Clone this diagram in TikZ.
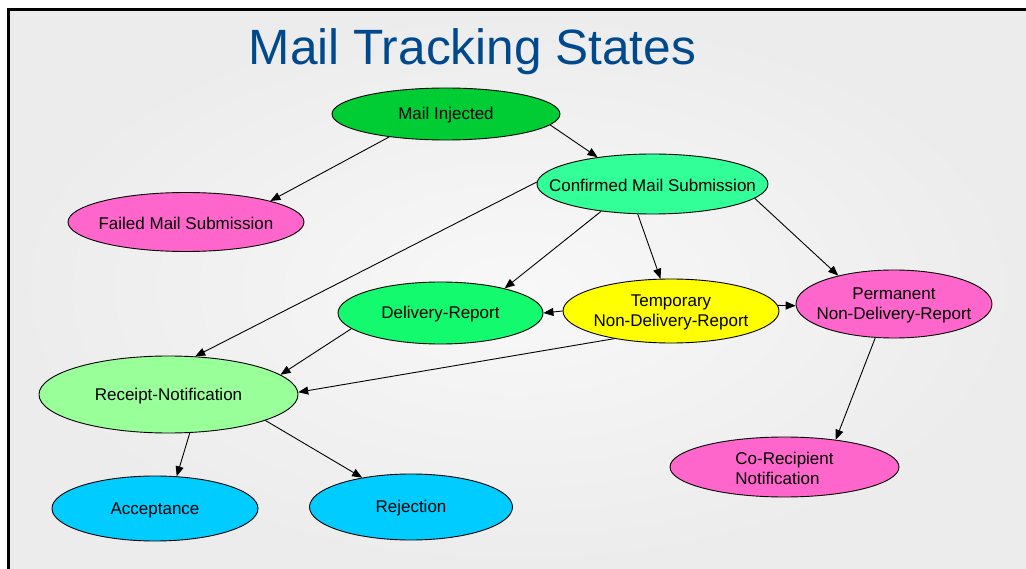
\documentclass[tikz,border=0pt]{standalone}
\usepackage{fontspec}
\setmainfont{Liberation Sans}
\usetikzlibrary{shapes.geometric,arrows.meta}
\definecolor{titleblue}{RGB}{0,73,140}
\definecolor{injgreen}{RGB}{0,204,51}
\definecolor{confgreen}{RGB}{51,255,153}
\definecolor{drgreen}{RGB}{20,250,110}
\definecolor{rcptgreen}{RGB}{153,255,153}
\definecolor{failpink}{RGB}{255,102,204}
\definecolor{tmpyellow}{RGB}{255,255,0}
\definecolor{skyblue}{RGB}{0,204,255}
\definecolor{slideedge}{RGB}{236,236,236}
\definecolor{slidemid}{RGB}{248,248,248}
\begin{document}
\begin{tikzpicture}[x=1pt,y=-1pt,
  state/.style={ellipse, draw=black, line width=0.9pt, inner sep=0pt},
  lbl/.style={font=\fontsize{17}{19.5}\selectfont, align=center, text=black, yshift=-1.5pt},
  flow/.style={draw=black, line width=0.9pt, -{Triangle[length=10pt,width=8pt]}}]

% page and slide background
\useasboundingbox (0,0) rectangle (1026,569);
\fill[white] (0,0) rectangle (1026,569);
\shade[inner color=slidemid, outer color=slideedge] (8.7,9.7) rectangle (1026,569);
\draw[line width=2.7pt, line cap=rect] (8.7,569) -- (8.7,9.7) -- (1026,9.7);

% title
\node[anchor=base, text=titleblue, font=\fontsize{49.6}{56}\selectfont, inner sep=0pt] (title) at (472.5,65) {Mail Tracking States};

% states
\node[state, fill=injgreen, minimum width=228pt, minimum height=52pt,
      label={[lbl]center:Mail Injected}] (mi) at (446,114) {};
\node[state, fill=confgreen, minimum width=231pt, minimum height=60pt,
      label={[lbl]center:Confirmed Mail Submission}] (cms) at (652.5,184) {};
\node[state, fill=failpink, minimum width=236pt, minimum height=59pt,
      label={[lbl]center:Failed Mail Submission}] (fms) at (186,222) {};
\node[state, fill=drgreen, minimum width=205pt, minimum height=62pt,
      label={[lbl]center:Delivery-Report}] (dr) at (440.5,313) {};
\node[state, fill=tmpyellow, minimum width=216pt, minimum height=64pt,
      label={[lbl]center:Temporary\\Non-Delivery-Report}] (tndr) at (671,311) {};
\node[state, fill=failpink, minimum width=196pt, minimum height=68pt,
      label={[lbl]center:Permanent\\Non-Delivery-Report}] (pndr) at (894,304) {};
\node[state, fill=rcptgreen, minimum width=259pt, minimum height=77pt,
      label={[lbl]center:Receipt-Notification}] (rn) at (168.5,394.5) {};
\node[state, fill=skyblue, minimum width=206pt, minimum height=65pt,
      label={[lbl]center:Acceptance}] (acc) at (155,508.5) {};
\node[state, fill=skyblue, minimum width=203pt, minimum height=66pt,
      label={[lbl]center:Rejection}] (rej) at (411,507) {};
\node[state, fill=failpink, minimum width=229pt, minimum height=60pt,
      label={[lbl, align=left]center:Co-Recipient\\Notification}] (co) at (784.5,467) {};

% transitions
\draw[flow] (mi.202) -- (fms.14);
\draw[flow] (mi.354) -- (cms.154);
\draw[flow] (cms.179) -- (rn.55);
\draw[flow] (cms.208) -- (dr.21);
\draw[flow] (cms.244) -- (tndr.108);
\draw[flow] (cms.352) -- (pndr.153);
\draw[flow] (tndr.180) -- (dr.0);
\draw[flow] (tndr.3) -- (pndr.181);
\draw[flow] (tndr.206) -- (rn.1);
\draw[flow] (dr.190) -- (rn.10);
\draw[flow] (pndr.241) -- (co.28);
\draw[flow] (rn.299) -- (acc.56);
\draw[flow] (rn.345) -- (rej.149);
\end{tikzpicture}
\end{document}
